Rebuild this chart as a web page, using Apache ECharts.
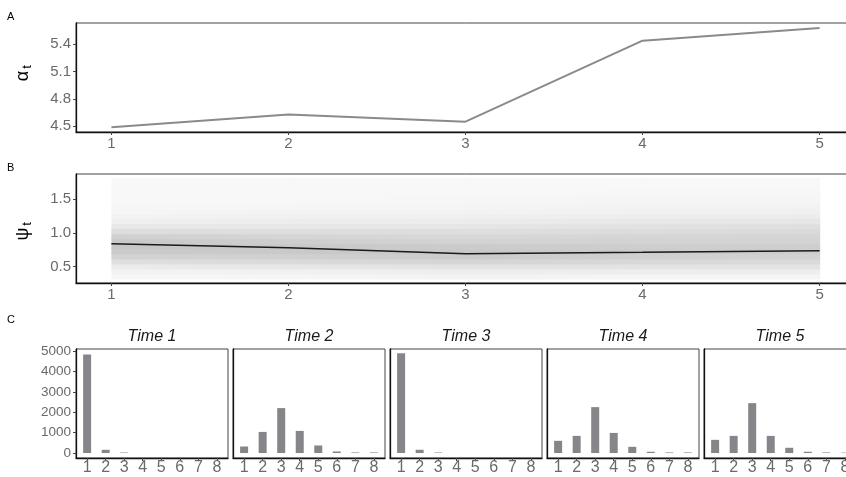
<!DOCTYPE html>
<html>
<head>
<meta charset="utf-8">
<script src="https://cdn.jsdelivr.net/npm/echarts@6/dist/echarts.min.js"></script>
<style>
html,body{margin:0;padding:0;background:#fff;overflow:hidden;width:846px;height:477px;}
#chart{width:862px;height:477px;}
</style>
</head>
<body>
<div id="chart"></div>
<script>
// ---------- data ----------
const times = [1, 2, 3, 4, 5];
const alphaValues = [4.49, 4.63, 4.55, 5.44, 5.58];
const alphaTicks = [4.5, 4.8, 5.1, 5.4];

const psiMedian = [0.837, 0.778, 0.69, 0.71, 0.734];
const psiTicks = [0.5, 1.0, 1.5];
// posterior density shading (darkness 0..1) per y-bin centre, per time
const psiBins = [0.35,0.425,0.5,0.575,0.65,0.725,0.8,0.875,0.95,1.025,1.1,1.175,1.25,1.325,1.4,1.475,1.55,1.625,1.7,1.775];
const psiDens1 = [0.015,0.03,0.06,0.11,0.16,0.19,0.21,0.20,0.17,0.12,0.075,0.045,0.03,0.02,0.015,0.012,0.01,0.01,0.01,0.01];
const psiDens2 = [0.02,0.04,0.08,0.13,0.17,0.20,0.20,0.18,0.15,0.115,0.08,0.055,0.04,0.03,0.02,0.015,0.012,0.01,0.01,0.01];
const psiDens3 = [0.03,0.055,0.10,0.15,0.19,0.20,0.19,0.16,0.14,0.115,0.085,0.06,0.045,0.03,0.022,0.018,0.014,0.012,0.01,0.01];
const psiDens4 = [0.025,0.05,0.095,0.14,0.17,0.19,0.18,0.16,0.15,0.125,0.10,0.075,0.055,0.04,0.03,0.022,0.018,0.014,0.01,0.01];
const psiDens5 = [0.025,0.05,0.09,0.13,0.165,0.18,0.18,0.16,0.15,0.13,0.11,0.085,0.06,0.045,0.032,0.024,0.02,0.015,0.012,0.01];
const psiDensity = [psiDens1, psiDens2, psiDens3, psiDens4, psiDens5];

const clusters = [1, 2, 3, 4, 5, 6, 7, 8];
const countTicks = [0, 1000, 2000, 3000, 4000, 5000];
const facetTitles = ['Time 1', 'Time 2', 'Time 3', 'Time 4', 'Time 5'];
const counts1 = [4844, 160, 25, 0, 0, 0, 0, 0];
const counts2 = [322, 1039, 2210, 1088, 371, 78, 30, 30];
const counts3 = [4907, 161, 25, 0, 0, 0, 0, 0];
const counts4 = [600, 844, 2259, 990, 307, 63, 30, 30];
const counts5 = [649, 844, 2454, 844, 259, 63, 30, 20];
const allCounts = [counts1, counts2, counts3, counts4, counts5];

// ---------- styling ----------
const FONT = 'Liberation Sans, Arial, sans-serif';
const LABEL_COLOR = '#6a6a6a';
const BORDER = '#444';
const TICK = { color: '#444', width: 1 };

const grids = [];
const xAxes = [];
const yAxes = [];
const series = [];
const graphics = [];

function valueAxis(gridIndex, min, max, ticks, fontSize, margin, showLabels, fmt) {
  return {
    type: 'value', gridIndex: gridIndex, min: min, max: max,
    axisLine: { show: true, onZero: false, lineStyle: { color: '#111', width: 1.3 } },
    axisTick: { show: showLabels, length: 3, customValues: ticks, lineStyle: TICK },
    axisLabel: { show: showLabels, color: LABEL_COLOR, fontFamily: FONT, fontSize: fontSize, margin: margin,
      customValues: ticks, formatter: fmt || (v => String(v)) },
    splitLine: { show: false }
  };
}

// Panel A
grids.push({ left: 76, top: 23, width: 779, height: 109, show: true, borderColor: BORDER, borderWidth: 1 });
xAxes.push(valueAxis(0, 0.8, 5.2, times, 15, 4, true));
yAxes.push(valueAxis(0, 4.437, 5.634, alphaTicks, 15, 5, true, v => v.toFixed(1)));
series.push({ type: 'line', xAxisIndex: 0, yAxisIndex: 0, data: times.map((t, i) => [t, alphaValues[i]]),
  symbol: 'none', lineStyle: { color: '#8a8a8a', width: 2 }, z: 3 });

// Panel B
grids.push({ left: 76, top: 174, width: 779, height: 109, show: true, borderColor: BORDER, borderWidth: 1 });
xAxes.push(valueAxis(1, 0.8, 5.2, times, 15, 4, true));
yAxes.push(valueAxis(1, 0.254, 1.874, psiTicks, 15, 5, true, v => v.toFixed(1)));

const densCells = [];
for (let i = 0; i < times.length - 1; i++) {
  for (let j = 0; j < psiBins.length; j++) densCells.push([i, j]);
}
const halfBin = (psiBins[1] - psiBins[0]) / 2;
function grey(a) { const c = Math.round(251 * (1 - a)); return 'rgb(' + c + ',' + c + ',' + c + ')'; }
series.push({
  type: 'custom', xAxisIndex: 1, yAxisIndex: 1, data: densCells, z: 1, silent: true,
  renderItem: function (params, api) {
    const i = api.value(0), j = api.value(1);
    const p0 = api.coord([times[i], psiBins[j] + halfBin]);
    const p1 = api.coord([times[i + 1], psiBins[j] - halfBin]);
    return {
      type: 'rect',
      shape: { x: p0[0], y: p0[1] - 0.5, width: p1[0] - p0[0] + 0.6, height: p1[1] - p0[1] + 1 },
      style: { fill: { type: 'linear', x: 0, y: 0, x2: 1, y2: 0,
        colorStops: [{ offset: 0, color: grey(psiDensity[i][j]) }, { offset: 1, color: grey(psiDensity[i + 1][j]) }] } }
    };
  }
});
series.push({ type: 'line', xAxisIndex: 1, yAxisIndex: 1, data: times.map((t, i) => [t, psiMedian[i]]),
  symbol: 'none', lineStyle: { color: '#1a1a1a', width: 1.5 }, z: 3 });

// Panel C facets
for (let k = 0; k < 5; k++) {
  const gi = 2 + k;
  const left = 76 + k * 157;
  grids.push({ left: left, top: 349, width: 152, height: 109, show: true, borderColor: BORDER, borderWidth: 1 });
  xAxes.push(valueAxis(gi, 0.4, 8.6, clusters, 16, 2, true));
  yAxes.push(valueAxis(gi, -244, 5117, countTicks, 13.5, 5, k === 0));
  series.push({ type: 'bar', xAxisIndex: gi, yAxisIndex: gi, barWidth: 8,
    data: clusters.map((c, i) => [c, allCounts[k][i]]),
    itemStyle: { color: '#86858a' } });
  graphics.push({ type: 'text', x: left + 76, y: 337, style: { text: facetTitles[k], font: 'italic 16px ' + FONT,
    fill: '#1a1a1a', textAlign: 'center', textVerticalAlign: 'middle' } });
}

// panel letters
[['A', 17], ['B', 168], ['C', 320]].forEach(function (p) {
  graphics.push({ type: 'text', x: 7, y: p[1], style: { text: p[0], font: '11px ' + FONT, fill: '#000',
    textAlign: 'left', textVerticalAlign: 'middle' } });
});
// y titles
graphics.push({ type: 'text', x: 23, y: 76, rotation: Math.PI / 2, style: { text: 'α', font: '18px ' + FONT, fill: '#000', textAlign: 'center', textVerticalAlign: 'middle' } });
graphics.push({ type: 'text', x: 27, y: 67, rotation: Math.PI / 2, style: { text: 't', font: '13px ' + FONT, fill: '#000', textAlign: 'center', textVerticalAlign: 'middle' } });
graphics.push({ type: 'text', x: 23, y: 234, rotation: Math.PI / 2, style: { text: 'ψ', font: '18px ' + FONT, fill: '#000', textAlign: 'center', textVerticalAlign: 'middle' } });
graphics.push({ type: 'text', x: 27, y: 224, rotation: Math.PI / 2, style: { text: 't', font: '13px ' + FONT, fill: '#000', textAlign: 'center', textVerticalAlign: 'middle' } });

const chart = echarts.init(document.getElementById('chart'), null, { renderer: 'canvas' });
chart.setOption({
  animation: false,
  backgroundColor: '#fff',
  grid: grids,
  xAxis: xAxes,
  yAxis: yAxes,
  series: series,
  graphic: graphics
});
</script>
</body>
</html>
